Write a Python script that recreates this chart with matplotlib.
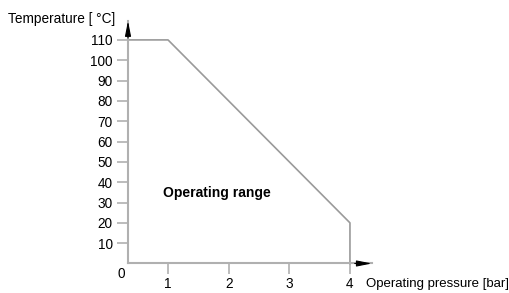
import matplotlib.pyplot as plt

plt.rcParams['font.family'] = ['Liberation Sans', 'DejaVu Sans']

# boundary of the operating range
pressure = [0.34, 1, 4, 4]
temperature = [110, 110, 20, 0]
x_ticks = [1, 2, 3, 4]
y_ticks = [10, 20, 30, 40, 50, 60, 70, 80, 90, 100, 110]

fig = plt.figure(figsize=(5.10, 2.93), dpi=100)
ax = fig.add_axes([0.251, 0.1007, 0.478, 0.8276])

ax.plot(pressure, temperature, color='#9a9a9a', lw=1.2, clip_on=False)

ax.set_xlim(0.34, 4.36)
ax.set_ylim(0, 119.3)
ax.set_xticks(x_ticks)
ax.set_yticks(y_ticks)
ax.tick_params(direction='out', length=8, width=1.2, color='#b0b0b0',
               labelsize=9.8, pad=3)
ax.tick_params(axis='x', pad=2)

for s in ['top', 'right']:
    ax.spines[s].set_visible(False)
for s in ['left', 'bottom']:
    ax.spines[s].set_color('#b0b0b0')
    ax.spines[s].set_linewidth(1.5)

# arrow heads
ax.annotate('', xy=(1.0, 0), xytext=(0.93, 0), xycoords='axes fraction',
            arrowprops=dict(arrowstyle='-|>,head_length=0.9,head_width=0.18',
                            color='black', lw=0.8, shrinkA=0, shrinkB=0))
ax.annotate('', xy=(0, 1.0), xytext=(0, 0.93), xycoords='axes fraction',
            arrowprops=dict(arrowstyle='-|>,head_length=0.9,head_width=0.18',
                            color='black', lw=0.8, shrinkA=0, shrinkB=0))

fig.text(121 / 510, 1 - 274 / 293, '0', fontsize=9.8, ha='center', va='center')
fig.text(8 / 510, 1 - 19 / 293, 'Temperature [ °C]', fontsize=9.8,
         ha='left', va='center')
fig.text(366 / 510, 1 - 284 / 293, 'Operating pressure [bar]', fontsize=9.5,
         ha='left', va='center')
ax.text(1.81, 34.7, 'Operating range', fontsize=10, fontweight='bold',
        ha='center', va='center')

fig.savefig('out.png', dpi=100)
